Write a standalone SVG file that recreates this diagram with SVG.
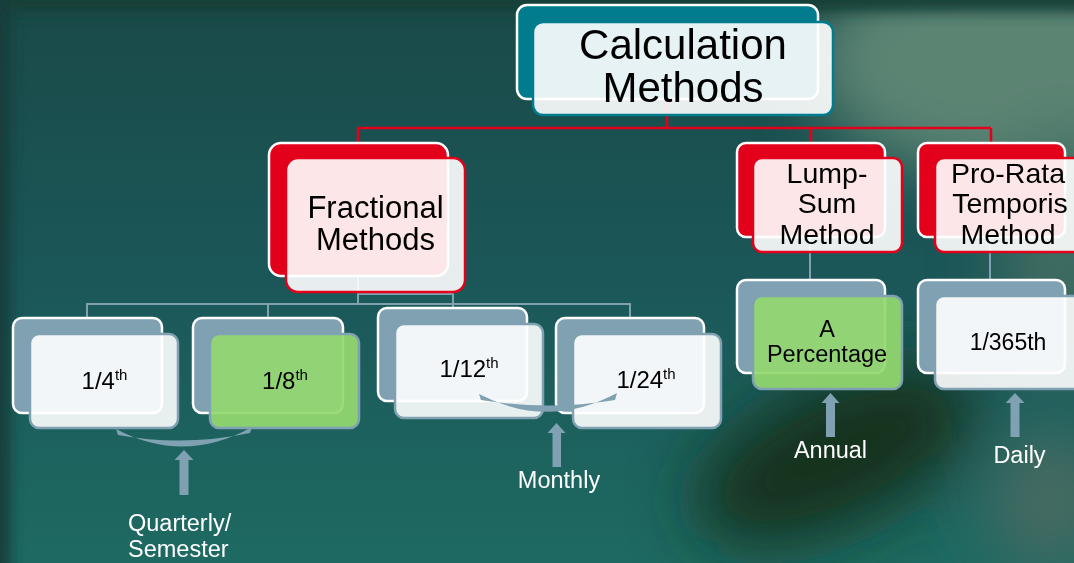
<svg xmlns="http://www.w3.org/2000/svg" width="1074" height="563" viewBox="0 0 1074 563">
<defs>
<filter id="blur" filterUnits="userSpaceOnUse" x="-300" y="-300" width="1674" height="1163"><feGaussianBlur stdDeviation="32"/></filter>
<filter id="blur2" filterUnits="userSpaceOnUse" x="-100" y="-100" width="1274" height="763"><feGaussianBlur stdDeviation="7"/></filter>
<linearGradient id="bgv" x1="0" y1="0" x2="0" y2="1">
<stop offset="0" stop-color="#1a4a48"/>
<stop offset="0.5" stop-color="#1b5759"/>
<stop offset="1" stop-color="#1e6a62"/>
</linearGradient>
<style>
.tb{fill:#007c8e;stroke:#fff;stroke-width:2.5}
.tf{fill:#fff;fill-opacity:0.9;stroke:#007c8e;stroke-width:2.5}
.rb{fill:#e2001a;stroke:#fff;stroke-width:2.5}
.rf{fill:#fff;fill-opacity:0.9;stroke:#e2001a;stroke-width:2.5}
.gb{fill:#7fa1b2;stroke:#fff;stroke-width:2.5}
.gf{fill:#fff;fill-opacity:0.9;stroke:#7fa1b2;stroke-width:2.5}
.gg{fill:#93d870;fill-opacity:0.93;stroke:#7fa1b2;stroke-width:2.5}
.t{font-family:"Liberation Sans",Arial,sans-serif;fill:#000;text-anchor:middle}
.w{font-family:"Liberation Sans",Arial,sans-serif;fill:#fff;font-size:23.5px}
.red{fill:none;stroke:#e2001a;stroke-width:2.5}
.grey{fill:none;stroke:#7fa1b2;stroke-width:2}
.acc{fill:#7fa1b2}
</style>
</defs>
<g id="background">
<rect width="1074" height="563" fill="url(#bgv)"/>
<g filter="url(#blur)">
<ellipse cx="1010" cy="60" rx="200" ry="120" fill="#5b8473"/>
<ellipse cx="1060" cy="250" rx="60" ry="120" fill="#3f6c62"/>
<ellipse cx="835" cy="455" rx="150" ry="70" fill="#12311f" transform="rotate(-25 835 455)"/>
<ellipse cx="1050" cy="500" rx="60" ry="70" fill="#466a62"/>
</g>
<g filter="url(#blur2)">
<rect x="-20" y="-20" width="1114" height="32" fill="#173f38"/>
<rect x="-20" y="-20" width="30" height="603" fill="#183c3a"/>
</g>
</g>
<g id="connectors">
<path class="red" d="M667,99 V128 M358,128 H991 M358,128 V143 M811,128 V143 M991,128 V143"/>
<path class="grey" d="M358,276 V304 M87,318 V304 H630 V318 M268,304 V318 M358,294 H453 V308 M810,237 V280 M990,237 V280"/>
</g>
<g id="calc">
<rect class="tb" x="517" y="5" width="301" height="94" rx="10"/>
<rect class="tf" x="533" y="22" width="300" height="93" rx="10"/>
<text class="t" x="683" y="59" font-size="42">Calculation</text>
<text class="t" x="683" y="102" font-size="42">Methods</text>
</g>
<g id="fractional">
<rect class="rb" x="269" y="143" width="179" height="133" rx="12"/>
<rect class="rf" x="286" y="158" width="179" height="134" rx="12"/>
<text class="t" x="375.5" y="218" font-size="31">Fractional</text>
<text class="t" x="375.5" y="250" font-size="31">Methods</text>
</g>
<g id="lumpsum">
<rect class="rb" x="737" y="143" width="148" height="94" rx="9"/>
<rect class="rf" x="753" y="158" width="149" height="94" rx="9"/>
<text class="t" x="827" y="183" font-size="28.5">Lump-</text>
<text class="t" x="827" y="213" font-size="28.5">Sum</text>
<text class="t" x="827" y="244" font-size="28.5">Method</text>
</g>
<g id="prorata">
<rect class="rb" x="918" y="143" width="147" height="94" rx="9"/>
<rect class="rf" x="935" y="158" width="149" height="94" rx="9"/>
<text class="t" x="1008" y="183" font-size="28.5">Pro-Rata</text>
<text class="t" x="1010" y="213" font-size="28.5">Temporis</text>
<text class="t" x="1008" y="244" font-size="28.5">Method</text>
</g>
<g id="quarter">
<rect class="gb" x="13" y="318" width="149" height="95" rx="9"/>
<rect class="gf" x="30" y="334" width="148" height="94" rx="9"/>
<text class="t" x="104.5" y="389" font-size="24">1/4<tspan font-size="15" dy="-9">th</tspan></text>
</g>
<g id="eighth">
<rect class="gb" x="193" y="318" width="150" height="95" rx="9"/>
<rect class="gg" x="210" y="334" width="149" height="94" rx="9"/>
<text class="t" x="285" y="389" font-size="24">1/8<tspan font-size="15" dy="-9">th</tspan></text>
</g>
<g id="twelfth">
<rect class="gb" x="378" y="308" width="149" height="93" rx="9"/>
<rect class="gf" x="395" y="324" width="148" height="94" rx="9"/>
<text class="t" x="469" y="377" font-size="24">1/12<tspan font-size="15" dy="-9">th</tspan></text>
</g>
<g id="twentyfourth">
<rect class="gb" x="556" y="318" width="148" height="95" rx="9"/>
<rect class="gf" x="573" y="334" width="148" height="94" rx="9"/>
<text class="t" x="646" y="388" font-size="24">1/24<tspan font-size="15" dy="-9">th</tspan></text>
</g>
<g id="percentage">
<rect class="gb" x="737" y="280" width="148" height="93" rx="9"/>
<rect class="gg" x="753" y="296" width="149" height="93" rx="9"/>
<text class="t" x="827" y="337" font-size="23.5">A</text>
<text class="t" x="827" y="362" font-size="23.5">Percentage</text>
</g>
<g id="daily365">
<rect class="gb" x="918" y="280" width="147" height="93" rx="9"/>
<rect class="gf" x="935" y="296" width="149" height="93" rx="9"/>
<text class="t" x="1008" y="350" font-size="23">1/365th</text>
</g>
<g id="quarterly-label">
<path class="acc" d="M116,429 Q184,465 252,427 L250,433 Q184,447 118,435 Z"/>
<polygon class="acc" points="184,450 193.5,460 188.5,460 188.5,495 179.5,495 179.5,460 174.5,460"/>
<text class="w" x="128" y="531">Quarterly/</text>
<text class="w" x="128" y="557">Semester</text>
</g>
<g id="monthly-label">
<path class="acc" d="M479,394 Q548,430 617,393 L615,400 Q548,411 481,400 Z"/>
<polygon class="acc" points="556.5,423 565.5,433 561,433 561,467 552.5,467 552.5,433 547.5,433"/>
<text class="w" x="559" y="488" text-anchor="middle">Monthly</text>
</g>
<g id="annual-label">
<polygon class="acc" points="830.5,393 839.5,403 835,403 835,437 826,437 826,403 821.5,403"/>
<text class="w" x="830.5" y="458" text-anchor="middle">Annual</text>
</g>
<g id="daily-label">
<polygon class="acc" points="1015,393 1024.5,403 1019.5,403 1019.5,437 1010.5,437 1010.5,403 1005.5,403"/>
<text class="w" x="1019.5" y="463" text-anchor="middle">Daily</text>
</g>
</svg>
